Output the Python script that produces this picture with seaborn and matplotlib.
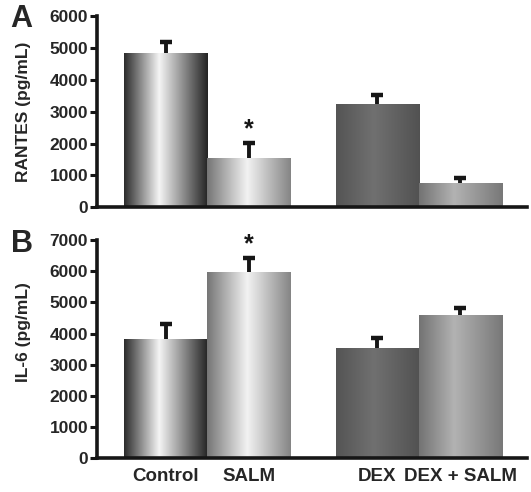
"""Two-panel cytokine bar chart: RANTES and IL-6 by treatment, shaded cylinder bars."""
import numpy as np
import pandas as pd
import matplotlib
matplotlib.use("Agg")
import matplotlib.pyplot as plt
import seaborn as sns

# data
groups = ["Control", "SALM", "DEX", "DEX + SALM"]
rantes = [4850, 1550, 3250, 750]
rantes_err = [350, 470, 270, 180]
il6 = [3830, 5980, 3550, 4580]
il6_err = [480, 450, 300, 230]
signif = [False, True, False, False]

# layout: gap between SALM and DEX groups
xpos = [0, 1, 2.55, 3.55]

# grey gradient stops (fraction across bar, grey level) per bar
SHADES = [
    [(0.0, 0.17), (0.42, 0.96), (1.0, 0.14)],
    [(0.0, 0.46), (0.48, 0.95), (1.0, 0.52)],
    [(0.0, 0.33), (0.45, 0.44), (1.0, 0.32)],
    [(0.0, 0.45), (0.42, 0.70), (1.0, 0.47)],
]

sns.set_style("ticks")
plt.rcParams["font.family"] = ["Liberation Sans", "DejaVu Sans"]
plt.rcParams["font.weight"] = "bold"
plt.rcParams["axes.labelweight"] = "bold"

fig = plt.figure(figsize=(5.31, 4.92), dpi=100)
ax_a = fig.add_axes([0.183, 0.579, 0.809, 0.388])
ax_b = fig.add_axes([0.183, 0.069, 0.809, 0.443])


def shade_bars(ax):
    for patch, stops in zip(ax.patches, SHADES):
        x0, w, h = patch.get_x(), patch.get_width(), patch.get_height()
        fr = np.linspace(0, 1, 300)
        g = np.interp(fr, [s[0] for s in stops], [s[1] for s in stops])
        img = np.dstack([g, g, g]).reshape(1, 300, 3)
        im = ax.imshow(img, extent=[x0, x0 + w, 0, h], aspect="auto",
                       interpolation="bilinear", zorder=2)
        im.set_clip_path(patch)


def panel(ax, vals, errs, ymax, ylabel, letter, letter_y, show_x, ylab_pos):
    df = pd.DataFrame({"x": xpos, "y": vals})
    sns.barplot(data=df, x="x", y="y", native_scale=True, width=1.0,
                color="0.5", linewidth=0, errorbar=None, ax=ax)
    shade_bars(ax)
    _, caps, _ = ax.errorbar(xpos, vals, yerr=[[0] * len(vals), errs], fmt="none",
                             ecolor="#161616", elinewidth=2.8, capsize=4.5,
                             capthick=3.2, zorder=3)
    caps[0].set_visible(False)  # only upper whisker, like the original
    for x, v, e, s in zip(xpos, vals, errs, signif):
        if s:
            ax.annotate("*", (x, v + e), xytext=(0, 1), textcoords="offset points",
                        ha="center", va="bottom", fontsize=18, fontweight="bold",
                        color="#161616")
    ax.set_xlim(-0.825, 4.35)
    ax.set_ylim(0, ymax)
    ax.set_yticks(np.arange(0, ymax + 1, 1000))
    ax.set_xticks(xpos)
    ax.set_xticklabels(groups if show_x else [])
    ax.set_xlabel("")
    ax.set_ylabel(ylabel, fontsize=12.5, labelpad=6)
    ax.yaxis.set_label_coords(-0.155, ylab_pos)
    sns.despine(ax=ax)
    for sp in ("left", "bottom"):
        ax.spines[sp].set_linewidth(2.6)
        ax.spines[sp].set_color("#161616")
    ax.tick_params(axis="y", length=5, width=2.2, pad=1.5, labelsize=12.5,
                   color="#161616")
    ax.tick_params(axis="x", length=0, pad=7, labelsize=13.5)
    fig.text(0.02, letter_y, letter, fontsize=22, fontweight="bold",
             va="top", ha="left")


panel(ax_a, rantes, rantes_err, 6000, "RANTES (pg/mL)", "A", 0.992, False, 0.5)
panel(ax_b, il6, il6_err, 7000, "IL-6 (pg/mL)", "B", 0.535, True, 0.58)

fig.savefig("out.png", dpi=100)
plt.close(fig)
